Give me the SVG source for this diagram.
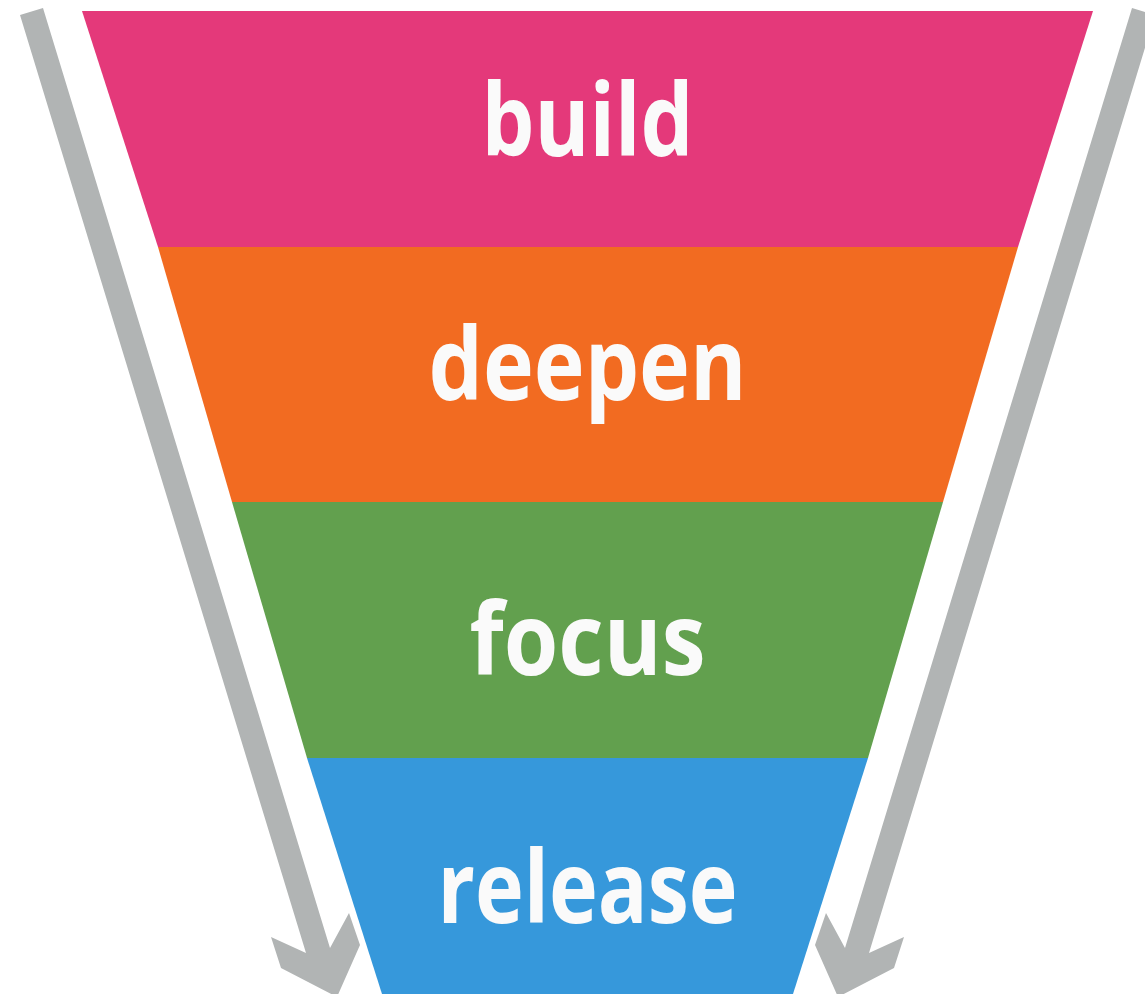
<svg xmlns="http://www.w3.org/2000/svg" width="1145" height="994" viewBox="0 0 1145 994">
<style>
.lbl{font-family:"Open Sans","Liberation Sans",sans-serif;font-weight:700;font-size:100px;fill:#fafafa;text-anchor:middle}
.arrow{fill:#b1b4b4}
</style>
<defs>
<polygon id="arr" points="20,15 306,953 271,937 281,968 337,997 360,945 349,913 330,948 43,8"/>
</defs>
<rect width="1145" height="994" fill="#ffffff"/>
<g id="build">
<polygon points="82,11 1093,11 1018,247 158,247" fill="#e4397a"/>
<text class="lbl" x="587.5" y="156" textLength="212" lengthAdjust="spacingAndGlyphs">build</text>
</g>
<g id="deepen">
<polygon points="158,247 1018,247 943,502 232,502" fill="#f26b21"/>
<text class="lbl" x="587.5" y="400" textLength="318" lengthAdjust="spacingAndGlyphs">deepen</text>
</g>
<g id="focus">
<polygon points="232,502 943,502 868,758 307,758" fill="#62a04e"/>
<text class="lbl" x="587.5" y="675" textLength="236" lengthAdjust="spacingAndGlyphs">focus</text>
</g>
<g id="release">
<polygon points="307,758 868,758 793,994 382,994" fill="#3698db"/>
<text class="lbl" x="587.5" y="923" textLength="300" lengthAdjust="spacingAndGlyphs">release</text>
</g>
<g id="connectors">
<use href="#arr" class="arrow"/>
<use href="#arr" class="arrow" transform="translate(1175,0) scale(-1,1)"/>
</g>
</svg>
